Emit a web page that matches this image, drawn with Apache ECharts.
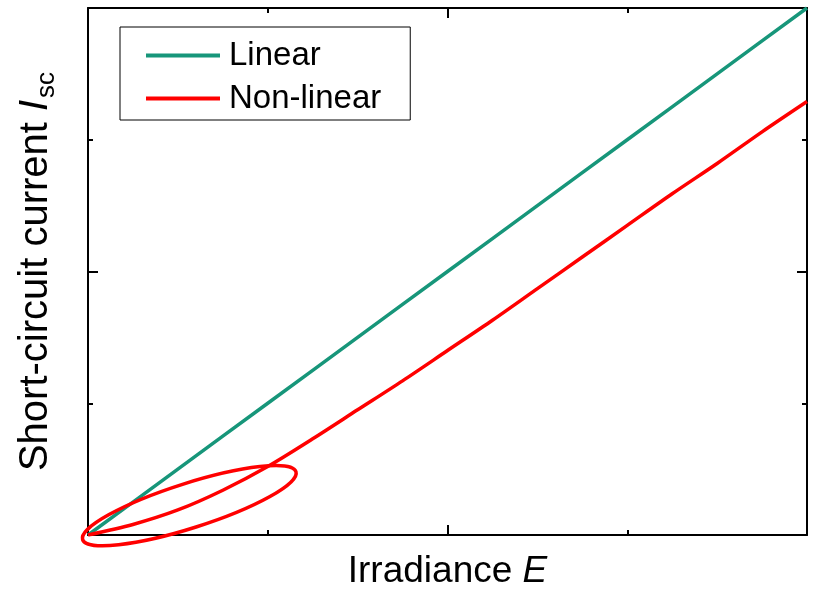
<!DOCTYPE html>
<html>
<head>
<meta charset="utf-8">
<script src="https://cdn.jsdelivr.net/npm/echarts@6/dist/echarts.min.js"></script>
<style>
  html, body { margin: 0; padding: 0; background: #fff; }
  #main { width: 813px; height: 590px; }
</style>
</head>
<body>
<div id="main"></div>
<script>
// irradiance (arbitrary units, 0..4)
var irradiance = [0, 0.25, 0.5, 0.75, 1, 1.25, 1.5, 1.75, 2, 2.25, 2.5, 2.75, 3, 3.25, 3.5, 3.75, 4];
// short-circuit current
var linearIsc = [0, 0.25, 0.5, 0.75, 1, 1.25, 1.5, 1.75, 2, 2.25, 2.5, 2.75, 3, 3.25, 3.5, 3.75, 4];
var nonlinearIsc = [0, 0.08, 0.19, 0.34, 0.52, 0.73, 0.95, 1.17, 1.4, 1.63, 1.87, 2.11, 2.35, 2.59, 2.82, 3.06, 3.29];
// highlighted low-irradiance region: ends of the ellipse's long axis (x1, y1, x2, y2)
var lowLightMark = [[-0.03, -0.035, 1.157, 0.48]];
var seriesNames = ["Linear", "Non-linear"];

function pairs(xs, ys) {
  var out = [];
  for (var i = 0; i < xs.length; i++) out.push([xs[i], ys[i]]);
  return out;
}

var axisCommon = {
  type: "value",
  min: 0,
  max: 4,
  interval: 2,
  axisLine: { show: true, onZero: false, lineStyle: { color: "#000", width: 2 } },
  axisTick: { show: true, inside: true, length: 10, lineStyle: { color: "#000", width: 2 } },
  minorTick: { show: true, splitNumber: 2, length: 5, lineStyle: { color: "#000", width: 2 } },
  axisLabel: { show: false },
  splitLine: { show: false }
};

var chart = echarts.init(document.getElementById("main"));
chart.setOption({
  animation: false,
  backgroundColor: "#fff",
  grid: { left: 88, right: 6, top: 8, bottom: 55, containLabel: false, outerBoundsMode: "none" },
  legend: {
    orient: "vertical",
    left: 120,
    top: 27,
    data: seriesNames,
    icon: "rect",
    itemWidth: 74,
    itemHeight: 4,
    itemGap: 10,
    padding: [12, 29, 5, 26],
    borderColor: "#000",
    borderWidth: 1,
    textStyle: { fontFamily: "Liberation Sans, Arial", fontSize: 33, color: "#000", padding: [0, 0, 0, 4] }
  },
  xAxis: [
    Object.assign({}, axisCommon, {
      position: "bottom",
      name: "Irradiance {i|E}",
      nameLocation: "middle",
      nameGap: 18,
      nameTextStyle: {
        fontFamily: "Liberation Sans, Arial",
        fontSize: 37,
        color: "#000",
        rich: { i: { fontFamily: "Liberation Sans, Arial", fontSize: 37, fontStyle: "italic", color: "#000" } }
      }
    }),
    Object.assign({}, axisCommon, { position: "top" })
  ],
  yAxis: [
    Object.assign({}, axisCommon, {
      position: "left",
      name: "Short-circuit current {i|I}{s|sc}",
      nameLocation: "middle",
      nameGap: 28,
      nameTextStyle: {
        fontFamily: "Liberation Sans, Arial",
        fontSize: 40,
        color: "#000",
        lineHeight: 48,
        rich: {
          i: { fontFamily: "Liberation Sans, Arial", fontSize: 40, fontStyle: "italic", color: "#000", lineHeight: 48, padding: [0, 2, 0, 0] },
          s: { fontFamily: "Liberation Sans, Arial", fontSize: 26, color: "#000", verticalAlign: "bottom", lineHeight: 48 }
        }
      }
    }),
    Object.assign({}, axisCommon, { position: "right" })
  ],
  series: [
    {
      name: seriesNames[0],
      type: "line",
      data: pairs(irradiance, linearIsc),
      symbol: "none",
      color: "#17967A",
      lineStyle: { width: 3.5, color: "#17967A" },
      z: 3
    },
    {
      name: seriesNames[1],
      type: "line",
      data: pairs(irradiance, nonlinearIsc),
      symbol: "none",
      smooth: 0.3,
      color: "#FF0000",
      lineStyle: { width: 3.5, color: "#FF0000" },
      z: 4
    },
    {
      name: "mark",
      type: "custom",
      data: lowLightMark,
      clip: false,
      silent: true,
      z: 5,
      renderItem: function (params, api) {
        var p1 = api.coord([api.value(0), api.value(1)]);
        var p2 = api.coord([api.value(2), api.value(3)]);
        var dx = p2[0] - p1[0], dy = p2[1] - p1[1];
        var a = Math.sqrt(dx * dx + dy * dy) / 2;
        return {
          type: "ellipse",
          x: (p1[0] + p2[0]) / 2,
          y: (p1[1] + p2[1]) / 2,
          rotation: -Math.atan2(dy, dx),
          shape: { cx: 0, cy: 0, rx: a, ry: a * 0.2 },
          style: { fill: "none", stroke: "#FF0000", lineWidth: 3.5 }
        };
      }
    }
  ]
});
</script>
</body>
</html>
